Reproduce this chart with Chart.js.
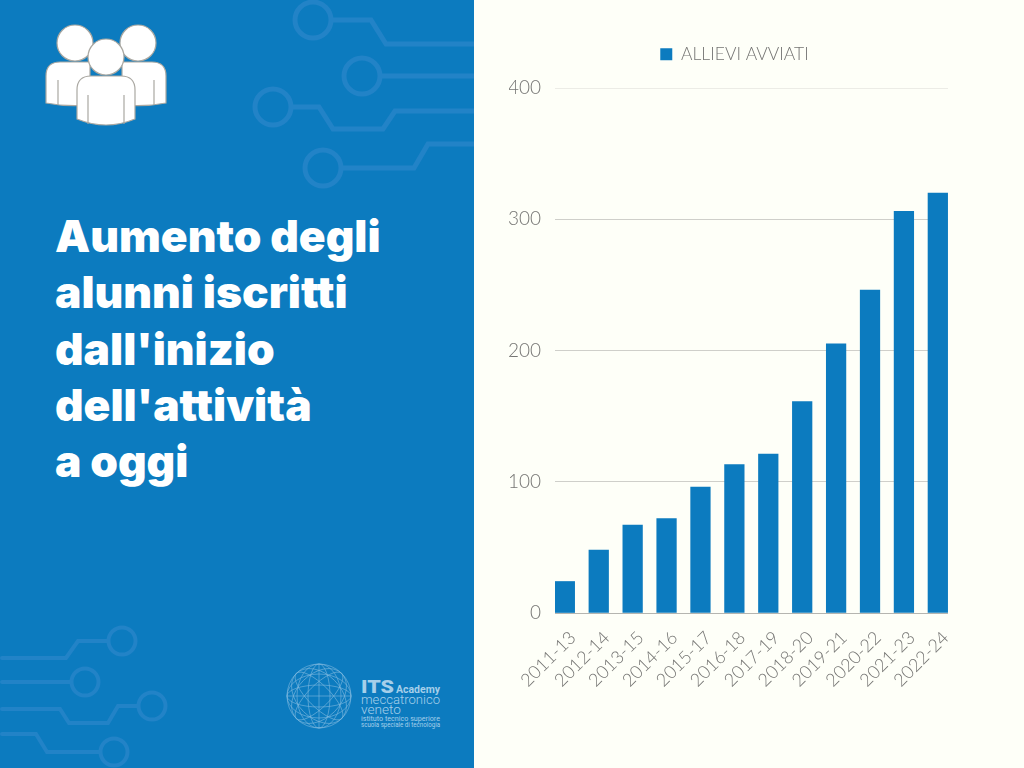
<!DOCTYPE html>
<html lang="it">
<head>
    <meta charset="UTF-8">
    <title>Aumento degli alunni iscritti</title>
    <script src="https://cdn.jsdelivr.net/npm/chart.js"></script>
    <style>
        html, body { margin: 0; padding: 0; }
        body { width: 1024px; height: 768px; overflow: hidden; position: relative; background: #fefff8; }
        #left { position: absolute; left: 0; top: 0; width: 474px; height: 768px; background: #0c7bbf; overflow: hidden; }
        #left svg { position: absolute; left: 0; top: 0; }
        #title {
            position: absolute; left: 55px; top: 208px; margin: 0;
            color: #fff; font: 900 44.3px/56.3px Inter, sans-serif;
        }
        #chartBox { position: absolute; left: 474px; top: 0; width: 550px; height: 768px; }
    </style>
</head>
<body>
    <div id="left">
        <svg width="474" height="768" viewBox="0 0 474 768">
            <g fill="none" stroke="#2283c7" stroke-width="5">
                <circle cx="313" cy="20" r="18"/>
                <path d="M331 20H371L386 44H474"/>
                <circle cx="362" cy="76" r="18"/>
                <path d="M380 76H474"/>
                <circle cx="273" cy="107" r="18"/>
                <path d="M291 107H319L333 129H383L395 111H474"/>
                <circle cx="323" cy="168" r="18"/>
                <path d="M341 168H414L428 144H474"/>
            </g>
            <g fill="none" stroke="#2283c7" stroke-width="4" stroke-linecap="round">
                <circle cx="122" cy="641" r="13.5"/>
                <path d="M108 641H78L66 658H2"/>
                <circle cx="85" cy="682" r="13.5"/>
                <path d="M71 682H2"/>
                <circle cx="152" cy="706" r="13.5"/>
                <path d="M138 706H118L108 723H69L60 709H2"/>
                <circle cx="114" cy="752" r="13.5"/>
                <path d="M100 752H47L36 734H2"/>
            </g>
            <!-- icona persone -->
            <g fill="#fff" stroke="#aaa8a2" stroke-width="1.2">
                <path d="M46 76Q46 62 60 62H90V105Q66 107 46 103Z"/>
                <path d="M166 76Q166 62 152 62H122V105Q146 107 166 103Z"/>
                <circle cx="75" cy="43" r="18"/>
                <circle cx="138" cy="43" r="18"/>
                <path d="M77 90Q77 76 91 76H121Q135 76 135 90V119Q106 131 77 119Z"/>
                <circle cx="106" cy="57" r="18"/>
                <path d="M58 80V105M154 80V105M88 95V124M124 95V124" fill="none"/>
            </g>
            <!-- logo -->
            <g fill="none" stroke="#7fb9df" stroke-width="0.6">
                <circle cx="319" cy="696" r="32"/>
                <ellipse cx="319" cy="696" rx="32" ry="11"/>
                <ellipse cx="319" cy="696" rx="32" ry="22"/>
                <ellipse cx="319" cy="696" rx="11" ry="32"/>
                <ellipse cx="319" cy="696" rx="22" ry="32"/>
                <ellipse cx="319" cy="696" rx="32" ry="11" transform="rotate(45 319 696)"/>
                <ellipse cx="319" cy="696" rx="32" ry="22" transform="rotate(45 319 696)"/>
                <ellipse cx="319" cy="696" rx="32" ry="11" transform="rotate(-45 319 696)"/>
                <ellipse cx="319" cy="696" rx="32" ry="22" transform="rotate(-45 319 696)"/>
                <path d="M287 696H351M319 664V728"/>
            </g>
            <g fill="#a5cfea" font-family="Roboto, sans-serif">
                <text x="361" y="693" font-size="18" font-weight="900" textLength="33" lengthAdjust="spacingAndGlyphs">ITS</text>
                <text x="396" y="693" font-size="10.5" font-weight="700" textLength="44" lengthAdjust="spacingAndGlyphs">Academy</text>
                <text x="361" y="704" font-size="13" font-weight="300" textLength="79" lengthAdjust="spacingAndGlyphs">meccatronico</text>
                <text x="361" y="714" font-size="13" font-weight="300" textLength="40" lengthAdjust="spacingAndGlyphs">veneto</text>
                <text x="361" y="721" font-size="6.5" textLength="79" lengthAdjust="spacingAndGlyphs">istituto tecnico superiore</text>
                <text x="361" y="727" font-size="6.5" textLength="79" lengthAdjust="spacingAndGlyphs">scuola speciale di tecnologia</text>
            </g>
        </svg>
        <h1 id="title">Aumento degli<br>alunni iscritti<br>dall'inizio<br>dell'attività<br>a oggi</h1>
    </div>
    <div id="chartBox"><canvas id="myChart" width="550" height="768"></canvas></div>

    <script>
        const categories = ['2011-13', '2012-14', '2013-15', '2014-16', '2015-17', '2016-18',
                            '2017-19', '2018-20', '2019-21', '2020-22', '2021-23', '2022-24'];
        const allieviAvviati = [24, 48, 67, 72, 96, 113, 121, 161, 205, 246, 306, 320];
        const seriesName = 'ALLIEVI AVVIATI';
        const yTicks = [0, 100, 200, 300, 400];

        const textColor = '#757573';
        const barColor = '#0c7bbf';

        // legend sits apart from the plot and a bit right of the canvas middle
        const legendPlace = {
            id: 'legendPlace',
            beforeInit(chart) {
                const fit = chart.legend.fit;
                chart.legend.fit = function () {
                    fit.bind(this)();
                    this.height += 15;
                };
            },
            afterLayout(chart) {
                chart.legend.left += 12;
            }
        };

        let ctx = document.getElementById('myChart').getContext('2d');
        let myChart = new Chart(ctx, {
            type: 'bar',
            plugins: [legendPlace],
            data: {
                datasets: [{
                    label: seriesName,
                    data: allieviAvviati.map((v, i) => ({ x: i, y: v })),
                    backgroundColor: barColor,
                    borderWidth: 0,
                    barThickness: 19.6
                }]
            },
            options: {
                responsive: false,
                animation: false,
                layout: { padding: { left: 35, right: 76, top: 20, bottom: 0 } },
                plugins: {
                    tooltip: { enabled: false },
                    legend: {
                        labels: {
                            boxWidth: 12,
                            boxHeight: 12,
                            padding: 25.5,
                            color: textColor,
                            font: { family: 'Lato', size: 17.5, weight: '300' }
                        }
                    }
                },
                scales: {
                    // bars sit flush with the ends of the grid, so x is linear instead of category
                    x: {
                        type: 'linear',
                        offset: false,
                        min: -0.29,
                        max: 11.3,
                        afterBuildTicks: (scale) => { scale.ticks = categories.map((c, i) => ({ value: i })); },
                        afterFit: (scale) => { scale.height = 155; },
                        grid: { display: false },
                        border: { display: false },
                        ticks: {
                            autoSkip: false,
                            minRotation: 45,
                            maxRotation: 45,
                            padding: 6,
                            labelOffset: 8,
                            color: textColor,
                            font: { family: 'Lato', size: 18, weight: '300' },
                            callback: (v) => categories[v]
                        }
                    },
                    y: {
                        min: 0,
                        max: 400,
                        afterBuildTicks: (scale) => { scale.ticks = yTicks.map((v) => ({ value: v })); },
                        afterFit: (scale) => { scale.width = 46; },
                        border: { display: false },
                        grid: {
                            drawTicks: false,
                            color: (c) => c.tick.value === 400 ? '#ecece6' : (c.tick.value === 0 ? '#b5b5b0' : '#cfcfca')
                        },
                        ticks: {
                            padding: 14,
                            color: textColor,
                            font: { family: 'Lato', size: 19, weight: '300' }
                        }
                    }
                }
            }
        });
    </script>
</body>
</html>
